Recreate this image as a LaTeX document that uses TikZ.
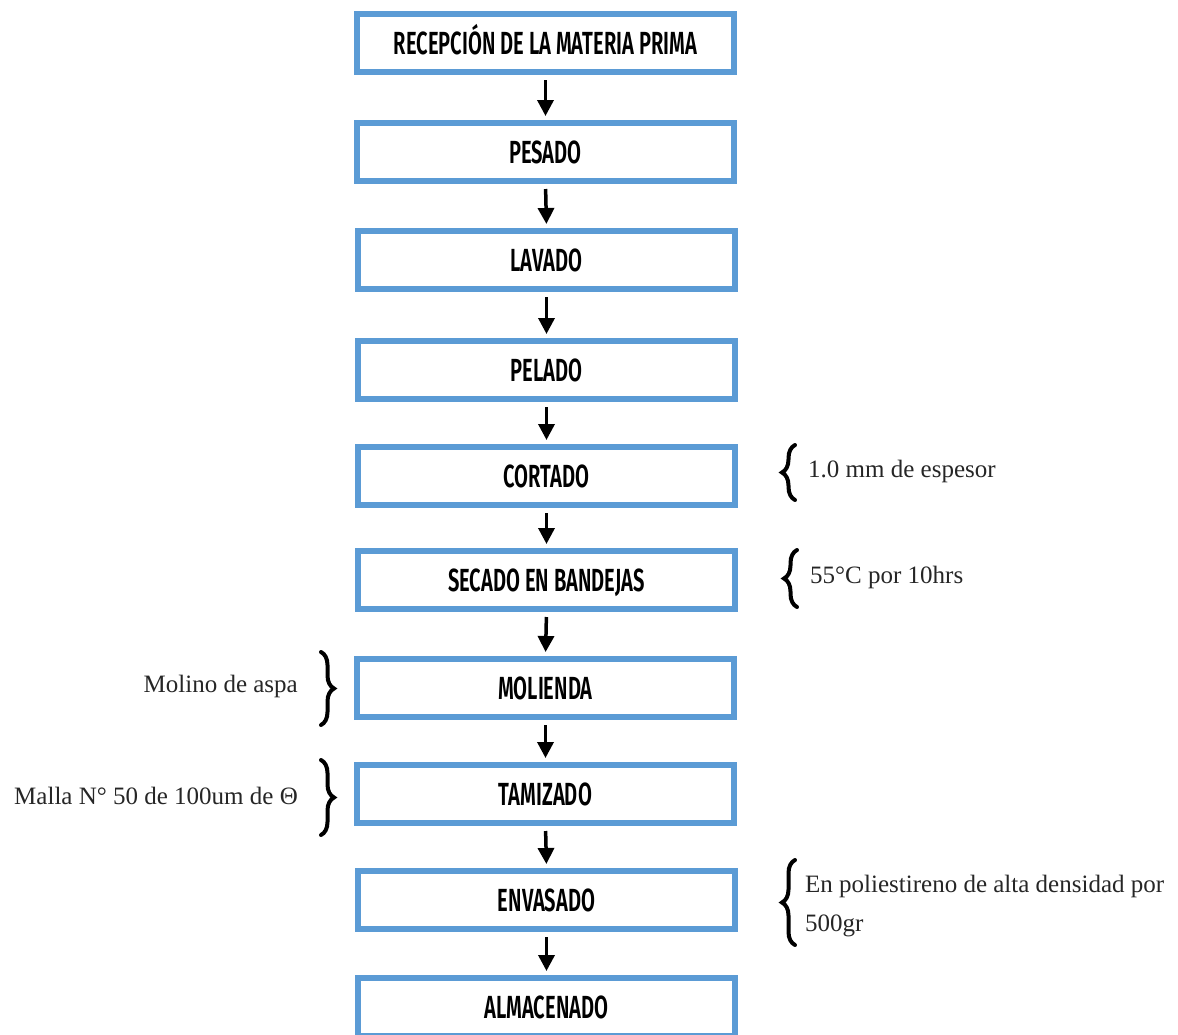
\documentclass[tikz,border=0pt]{standalone}
\usepackage{fontspec}
\setmainfont{Liberation Serif}
\newfontfamily\stepfont[FakeStretch=0.63,BoldFont={Fira Sans SemiBold}]{Fira Sans}
\usetikzlibrary{arrows.meta,decorations.pathreplacing}
\definecolor{stepblue}{HTML}{5B9BD5}
\definecolor{notegray}{HTML}{262626}
\begin{document}
\begin{tikzpicture}[x=1pt,y=-1pt,
  stepbox/.style={draw=stepblue, line width=6pt, fill=white,
    minimum width=377pt, minimum height=58pt, inner sep=0pt,
    text height=22pt, text depth=0pt,
    font=\stepfont\bfseries\fontsize{32}{32}\selectfont},
  flow/.style={line width=3.5pt, -{Triangle[width=16pt,length=16pt]},
    shorten <=5pt, shorten >=4pt},
  note/.style={font=\fontsize{25}{39}\selectfont, text=notegray, inner sep=0pt},
  bracket/.style={decorate, decoration={brace, amplitude=13pt},
    line width=4pt, line cap=round}]
\useasboundingbox (0,0) rectangle (1178,1034);
\clip (0,0) rectangle (1178,1034);

% process steps
\node[stepbox] (s1)  at (545.5,43)  {RECEPCIÓN DE LA MATERIA PRIMA};
\node[stepbox] (s2)  at (545.5,152) {PESADO};
\node[stepbox] (s3)  at (546.5,260) {LAVADO};
\node[stepbox] (s4)  at (546.5,370) {PELADO};
\node[stepbox] (s5)  at (546.5,476) {CORTADO};
\node[stepbox] (s6)  at (546.5,580) {SECADO EN BANDEJAS};
\node[stepbox] (s7)  at (545.5,688) {MOLIENDA};
\node[stepbox] (s8)  at (545.5,794) {TAMIZADO};
\node[stepbox] (s9)  at (546.5,900) {ENVASADO};
\node[stepbox] (s10) at (546.5,1007) {ALMACENADO};

% flow arrows
\foreach \a/\b in {s1/s2,s2/s3,s3/s4,s4/s5,s5/s6,s6/s7,s7/s8,s8/s9,s9/s10}
  \draw[flow] (\a.south) -- (\b.north);

% side notes with braces
\coordinate (c5a) at (795,500); \coordinate (c5b) at (795,445);
\draw[bracket] (c5a) -- (c5b);
\node[note, anchor=west] (n5) at (808,471) {1.0 mm de espesor};

\coordinate (c6a) at (797,607); \coordinate (c6b) at (797,550);
\draw[bracket] (c6a) -- (c6b);
\node[note, anchor=west] (n6) at (810,577) {55°C por 10hrs};

\coordinate (c7a) at (321,652); \coordinate (c7b) at (321,725);
\draw[bracket] (c7a) -- (c7b);
\node[note, anchor=east] (n7) at (298,686) {Molino de aspa};

\coordinate (c8a) at (321,760); \coordinate (c8b) at (321,835);
\draw[bracket] (c8a) -- (c8b);
\node[note, anchor=east] (n8) at (298,796) {Malla N° 50 de 100um de Θ};

\coordinate (c9a) at (795,945); \coordinate (c9b) at (795,860);
\draw[bracket] (c9a) -- (c9b);
\node[note, anchor=west, align=left] (n9) at (805,906)
  {En poliestireno de alta densidad por\\500gr};
\end{tikzpicture}
\end{document}
